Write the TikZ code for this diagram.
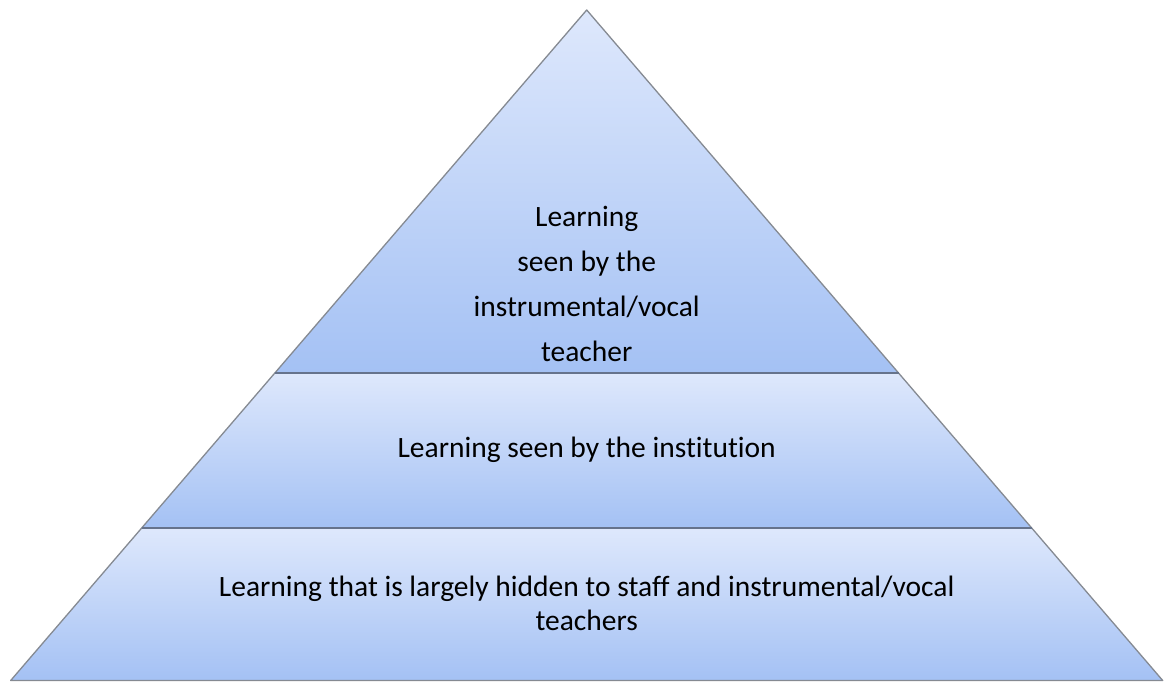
\documentclass[tikz,border=0pt]{standalone}
\usepackage{fontspec}
\setmainfont[Ligatures=CommonOff]{Carlito}
\definecolor{lighttop}{HTML}{DEE8FC}
\definecolor{darkbot}{HTML}{A4C1F4}
\definecolor{edgegray}{HTML}{858A92}
\definecolor{sepline}{HTML}{66738C}
\begin{document}
\begin{tikzpicture}[x=1pt,y=1pt,
  level/.style={top color=lighttop, bottom color=darkbot},
  outline/.style={draw=edgegray, line width=1.3pt, line join=round},
  sep/.style={draw=sepline, line width=1.8pt},
  lbl/.style={inner sep=0pt, align=center, text=black, font=\fontsize{29.5}{45}\selectfont}]
\useasboundingbox (0,0) rectangle (1170,684);
% key points
\coordinate (A) at (586.7,674);
\coordinate (L1) at (274.9,311);
\coordinate (R1) at (898.5,311);
\coordinate (L2) at (141.7,156);
\coordinate (R2) at (1031.7,156);
\coordinate (L3) at (10.7,3.5);
\coordinate (R3) at (1162.7,3.5);
% levels
\shade[level] (A) -- (R1) -- (L1) -- cycle;
\shade[level] (L1) -- (R1) -- (R2) -- (L2) -- cycle;
\shade[level] (L2) -- (R2) -- (R3) -- (L3) -- cycle;
\draw[outline] (A) -- (R3) -- (L3) -- cycle;
\draw[sep] (L1) -- (R1);
\draw[sep] (L2) -- (R2);
% labels
\node[lbl, anchor=center] (top) at (586.7,400.5) {Learning\\seen by the\\instrumental/vocal\\teacher};
\node[lbl, anchor=base] (mid) at (586.7,226) {Learning seen by the institution};
\node[lbl, anchor=base] (bot1) at (586.7,87) {Learning that is largely hidden to staff and instrumental/vocal};
\node[lbl, anchor=base] (bot2) at (586.7,53) {teachers};
\end{tikzpicture}
\end{document}
